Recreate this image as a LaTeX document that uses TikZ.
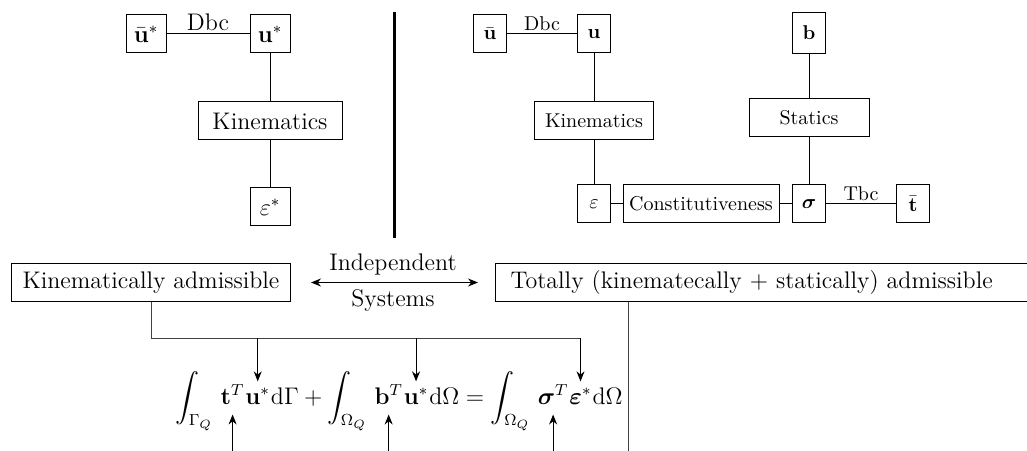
\documentclass[tikz,border=0pt]{standalone}
\usepackage{amsmath}
\usepackage{bm}
\usetikzlibrary{arrows.meta, positioning, calc}

\begin{document}
\begin{tikzpicture}[x=0.5pt, y=0.5pt, line width=0.5pt,
  cell/.style={rectangle, draw, minimum width=20pt, minimum height=19pt,
               inner sep=2pt, font=\fontsize{12}{14}\selectfont},
  smallcell/.style={rectangle, draw, minimum width=16.5pt, minimum height=19pt,
               inner sep=2pt, font=\fontsize{10}{12}\selectfont},
  block/.style={rectangle, draw, minimum height=19pt, inner sep=2pt,
               font=\fontsize{12}{14}\selectfont},
  smallblock/.style={rectangle, draw, minimum height=19pt, inner sep=2pt,
               font=\fontsize{10}{12}\selectfont},
  eq/.style={inner sep=0pt, font=\fontsize{12}{14}\selectfont},
  lbl/.style={inner sep=1.5pt},
  wire/.style={black!75},
  tip/.style={-{Stealth[length=5pt, width=4pt]}},
  twotips/.style={{Stealth[length=5pt, width=4pt]}-{Stealth[length=5pt, width=4pt]}}
]
\useasboundingbox (0,0) rectangle (1027,450);

% Kinematic system (starred)
\node[cell] (ubs) at (146,416) {$\bar{\mathbf{u}}^*$};
\node[cell] (us) at (270,416) {$\mathbf{u}^*$};
\node[block, minimum width=72pt] (kins) at (270,329) {Kinematics};
\node[cell] (epss) at (270,243) {$\varepsilon^*$};
\draw (ubs) -- node[lbl, above, font=\fontsize{12}{14}\selectfont] {Dbc} (us);
\draw (us) -- (kins) -- (epss);

% Separator
\draw[line width=1.5pt] (394,438) -- (394,212);

% Real system
\node[smallcell] (ub) at (490,416) {$\bar{\mathbf{u}}$};
\node[smallcell] (u) at (594,416) {$\mathbf{u}$};
\node[smallblock, minimum width=59.5pt] (kin) at (594,329) {Kinematics};
\node[smallcell] (eps) at (594,246) {$\varepsilon$};
\node[smallblock, minimum width=78pt] (cons) at (701,246) {Constitutiveness};
\node[smallcell] (sig) at (809,246) {$\boldsymbol{\sigma}$};
\node[smallcell] (tb) at (913,246) {$\bar{\mathbf{t}}$};
\node[smallcell, minimum height=20.5pt] (b) at (809,417) {$\mathbf{b}$};
\node[smallblock, minimum width=60pt] (stat) at (809,332) {Statics};
\draw (ub) -- node[lbl, above] {Dbc} (u);
\draw (u) -- (kin) -- (eps);
\draw (eps) -- (cons) -- (sig);
\draw (sig) -- node[lbl, above] {Tbc} (tb);
\draw (b) -- (stat) -- (sig);

% Admissible systems
\node[block, minimum width=139.5pt] (kadm) at (151,167.5) {Kinematically admissible};
\node[block, anchor=west, text width=257pt, inner xsep=7.5pt, align=left]
  (tadm) at (495,167.5) {Totally (kinematecally + statically) admissible};
\draw[twotips, shorten <=10pt, shorten >=8.5pt]
  (kadm.east) -- node[above, font=\fontsize{12}{14}\selectfont] {Independent}
  node[below, font=\fontsize{12}{14}\selectfont] {Systems} (tadm.west);

% Virtual work equation
\node[eq, anchor=base west] (i1) at (175,46) {$\displaystyle\int_{\Gamma_Q}\;$};
\node[eq, base right=0pt of i1] (tt) {$\mathbf{t}^T$};
\node[eq, base right=0pt of tt] (uu1) {$\mathbf{u}^*$};
\node[eq, base right=0pt of uu1] (r1) {$\mathrm{d}\Gamma+\displaystyle\int_{\Omega_Q}\;$};
\node[eq, base right=0pt of r1] (bb) {$\mathbf{b}^T$};
\node[eq, base right=0pt of bb] (uu2) {$\mathbf{u}^*$};
\node[eq, base right=0pt of uu2] (r2) {$\mathrm{d}\Omega=\displaystyle\int_{\Omega_Q}\;$};
\node[eq, base right=0pt of r2] (sg) {$\boldsymbol{\sigma}^T$};
\node[eq, base right=0pt of sg] (ep) {$\boldsymbol{\varepsilon}^*$};
\node[eq, base right=0pt of ep] (r3) {$\mathrm{d}\Omega$};

% Links to the equation
\coordinate (bus) at (0,112);
\coordinate (bottom) at (0,-5);
\coordinate (tdrop) at (628,0);
\draw[wire] (kadm.south) |- (ep.north |- bus);
\foreach \n in {uu1, uu2, ep}
  \draw[tip, shorten >=3pt] (\n.north |- bus) -- (\n.north);
\foreach \n in {tt, bb, sg}
  \draw[tip, shorten >=5pt] (\n.south |- bottom) -- (\n.south);
\draw[wire] (tadm.south -| tdrop) -- (tdrop |- bottom);
\end{tikzpicture}
\end{document}
